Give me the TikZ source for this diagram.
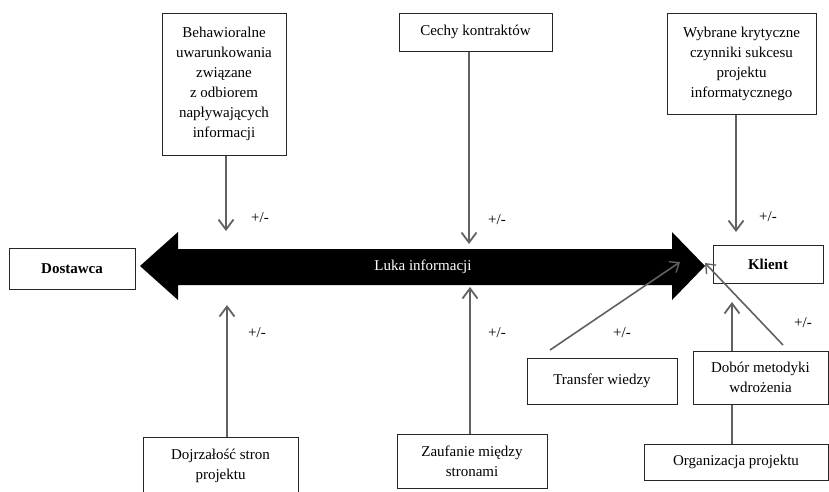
\documentclass[tikz,border=0pt]{standalone}
\usepackage{fontspec}
\setmainfont{Liberation Serif}
\usetikzlibrary{arrows.meta}
\begin{document}
\begin{tikzpicture}[x=1pt,y=-1pt,
  box/.style={draw=black!85,line width=1pt,rectangle,align=center,inner sep=2pt,font=\fontsize{15}{20}\selectfont},
  infl/.style={draw=black!62,line width=2.2pt,-{Straight Barb[length=10pt,width=15pt,line width=1.8pt]}},
  thin/.style={draw=black!62,line width=1.6pt,-{Straight Barb[length=8pt,width=13pt,line width=1.4pt]}},
  pm/.style={font=\fontsize{15}{16}\selectfont}]
\useasboundingbox (0,0) rectangle (829,491);
\clip (0,0) rectangle (829,491);
% big double arrow
\fill[black] (140,266) -- (178,232) -- (178,249) -- (672,249) -- (672,232) -- (705,266) -- (672,300) -- (672,285) -- (178,285) -- (178,300) -- cycle;
\node[text=white,font=\fontsize{15}{16}\selectfont] (luka) at (423,267) {Luka informacji};
% boxes
\node[box,minimum width=124pt,minimum height=142pt] (beh) at (224,84) {Behawioralne\\uwarunkowania\\związane\\z odbiorem\\napływających\\informacji};
\node[box,minimum width=153pt,minimum height=38pt] (cechy) at (475.5,32) {Cechy kontraktów};
\node[box,minimum width=149pt,minimum height=101pt] (wyb) at (741.5,63.5) {Wybrane krytyczne\\czynniki sukcesu\\projektu\\informatycznego};
\node[box,minimum width=126pt,minimum height=41pt,font=\fontsize{15}{20}\selectfont\bfseries] (dost) at (72,268.5) {Dostawca};
\node[box,minimum width=110pt,minimum height=38pt,font=\fontsize{15}{20}\selectfont\bfseries] (klient) at (768,264) {Klient};
\node[box,minimum width=150pt,minimum height=46pt] (transfer) at (602,381) {Transfer wiedzy};
\node[box,minimum width=135pt,minimum height=53pt] (dobor) at (760.5,377.5) {Dobór metodyki\\wdrożenia};
\node[box,minimum width=184pt,minimum height=36pt] (org) at (736,462) {Organizacja projektu};
\node[box,minimum width=155pt,minimum height=58pt] (dojrz) at (220.5,466) {Dojrzałość stron\\projektu};
\node[box,minimum width=150pt,minimum height=54pt] (zauf) at (472,461) {Zaufanie między\\stronami};
% arrow ends
\coordinate (tBeh) at (226,231);
\coordinate (tCechy) at (469,244);
\coordinate (tWyb) at (736,232);
\coordinate (tDojrz) at (227,305);
\coordinate (tZauf) at (470,287);
\coordinate (sTransfer) at (550,350);
\coordinate (tTransfer) at (680,262);
\coordinate (tDobor) at (732,302);
\coordinate (sDiag) at (783,345);
\coordinate (tDiag) at (705,263);
% connectors
\draw[infl] (beh.south -| tBeh) -- (tBeh);
\draw[infl] (cechy.south -| tCechy) -- (tCechy);
\draw[infl] (wyb.south -| tWyb) -- (tWyb);
\draw[infl] (dojrz.north -| tDojrz) -- (tDojrz);
\draw[infl] (zauf.north -| tZauf) -- (tZauf);
\draw[thin] (sTransfer) -- (tTransfer);
\draw[infl] (dobor.north -| tDobor) -- (tDobor);
\draw[thin] (sDiag) -- (tDiag);
\draw[draw=black!62,line width=2.2pt] (org.north -| tDobor) -- (dobor.south -| tDobor);
% labels
\node[pm] (p1) at (260,218) {+/-};
\node[pm] (p2) at (497,220) {+/-};
\node[pm] (p3) at (768,217) {+/-};
\node[pm] (p4) at (257,333) {+/-};
\node[pm] (p5) at (497,333) {+/-};
\node[pm] (p6) at (622,333) {+/-};
\node[pm] (p7) at (803,323) {+/-};
\end{tikzpicture}
\end{document}
